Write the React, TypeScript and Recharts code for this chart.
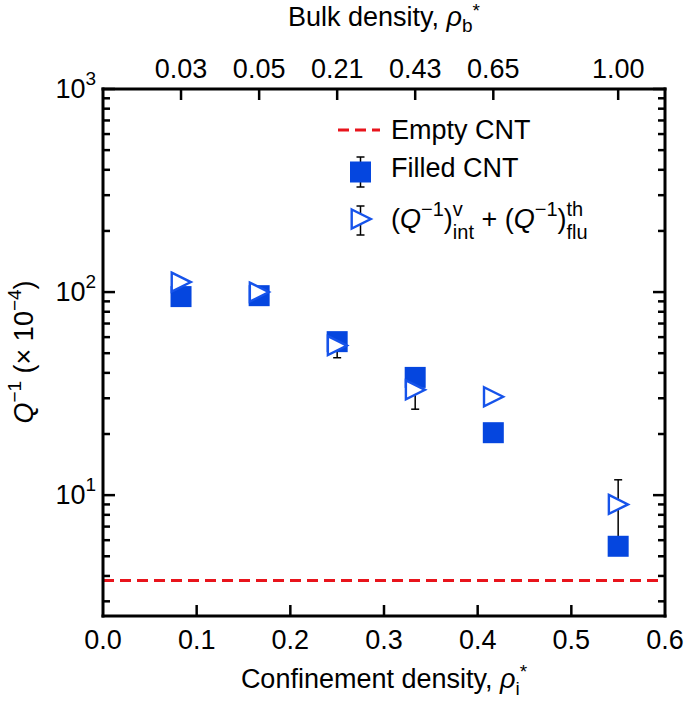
import React from 'react';
import { ComposedChart, Scatter, XAxis, YAxis, ReferenceLine, ErrorBar, Legend } from 'recharts';

// confinement density of the six fillings (bottom axis) and matching bulk densities (top axis)
const confinement = [0.0833, 0.1667, 0.25, 0.3333, 0.4167, 0.55];
const bulkLabels = ['0.03', '0.05', '0.21', '0.43', '0.65', '1.00'];

// Q^-1 (x 10^-4)
const filledQ = [95, 96, 57, 38, 20.3, 5.6];
const modelQ = [112, 100, 54.5, 33, 30.5, 9];
const modelLow = [109, 97, 47.5, 26.5, 29.7, 6.2];
const modelHigh = [115, 103, 60, 41, 31.3, 11.9];
const emptyQ = 3.8;

const xTicks = [0, 0.1, 0.2, 0.3, 0.4, 0.5, 0.6];
const yMajor = [10, 100, 1000];
const yMinor = [3, 4, 5, 6, 7, 8, 9, 20, 30, 40, 50, 60, 70, 80, 90, 200, 300, 400, 500, 600, 700, 800, 900];
const yTicks = [...yMinor, ...yMajor].sort((a, b) => a - b);

const filledData = confinement.map((x, i) => ({ x, y: filledQ[i] }));
const modelData = confinement.map((x, i) => ({
  x,
  y: modelQ[i],
  err: [modelQ[i] - modelLow[i], modelHigh[i] - modelQ[i]],
}));

const FONT = '"Liberation Sans", Arial, Helvetica, sans-serif';
const BLUE = '#0546df';
const TRI = '#1653ea';
const RED = '#e8141c';
const W = 685;
const H = 704;

function BottomTick({ x, y, payload }: any) {
  const v = payload.value;
  const edge = v === 0 || v === 0.6;
  return (
    <g>
      {!edge && <line x1={x} x2={x} y1={y} y2={y - 11} stroke="#000" strokeWidth={2.5} />}
      <text x={x} y={y + 33} textAnchor="middle" fontSize={27} fontFamily={FONT} fill="#000">
        {v.toFixed(1)}
      </text>
    </g>
  );
}

function TopTick({ x, y, index }: any) {
  return (
    <g>
      <line x1={x} x2={x} y1={y} y2={y + 11} stroke="#000" strokeWidth={2.5} />
      <text x={x} y={y - 11} textAnchor="middle" fontSize={27} fontFamily={FONT} fill="#000">
        {bulkLabels[index]}
      </text>
    </g>
  );
}

function LeftTick({ x, y, payload }: any) {
  const v = payload.value;
  const major = yMajor.includes(v);
  return (
    <g>
      <line x1={x} x2={x + (major ? 12 : 7)} y1={y} y2={y} stroke="#000" strokeWidth={2.5} />
      {major && (
        <text x={x - 7} y={y + 9} textAnchor="end" fontSize={27} fontFamily={FONT} fill="#000">
          <tspan>10</tspan>
          <tspan dy={-13} fontSize={19}>{String(Math.round(Math.log10(v)))}</tspan>
        </text>
      )}
    </g>
  );
}

function RightTick({ x, y, payload }: any) {
  const major = yMajor.includes(payload.value);
  return <line x1={x} x2={x - (major ? 12 : 7)} y1={y} y2={y} stroke="#000" strokeWidth={2.5} />;
}

const squareShape = (p: any) => (
  <rect x={p.cx - 10.5} y={p.cy - 10.5} width={21} height={21} fill={BLUE} />
);
const triangleShape = (p: any) => (
  <polygon
    points={`${p.cx - 9.3},${p.cy - 9.5} ${p.cx + 9.8},${p.cy} ${p.cx - 9.3},${p.cy + 9.5}`}
    fill="#fff"
    stroke={TRI}
    strokeWidth={2.4}
  />
);
const noShape = () => <g />;

const bottomTitle = () => (
  <text x={384} y={688} textAnchor="middle" fontSize={27} fontFamily={FONT} fill="#000">
    <tspan>Confinement density, </tspan>
    <tspan fontStyle="italic">ρ</tspan>
    <tspan fontSize={19} dy={7}>i</tspan>
    <tspan fontSize={19} dy={-17}>*</tspan>
  </text>
);

const topTitle = () => (
  <text x={384} y={26} textAnchor="middle" fontSize={27} fontFamily={FONT} fill="#000">
    <tspan>Bulk density, </tspan>
    <tspan fontStyle="italic">ρ</tspan>
    <tspan fontSize={19} dy={6}>b</tspan>
    <tspan fontSize={19} dy={-15}>*</tspan>
  </text>
);

const leftTitle = () => (
  <text
    x={33}
    y={352}
    transform="rotate(-90, 33, 352)"
    textAnchor="middle"
    fontSize={27}
    fontFamily={FONT}
    fill="#000"
  >
    <tspan fontStyle="italic">Q</tspan>
    <tspan fontSize={19} dy={-12}>−1</tspan>
    <tspan dy={12}> (× 10</tspan>
    <tspan fontSize={19} dy={-12}>−4</tspan>
    <tspan dy={12}>)</tspan>
  </text>
);

function LegendBox() {
  const t = { fontSize: 27, fontFamily: FONT, fill: '#000' };
  return (
    <svg width={340} height={145} style={{ overflow: 'visible', display: 'block' }}>
      <line x1={8} x2={50} y1={30} y2={30} stroke={RED} strokeWidth={3} strokeDasharray="11 6" />
      <text x={61} y={39} {...t}>Empty CNT</text>

      <line x1={30.5} x2={30.5} y1={57} y2={87} stroke="#000" strokeWidth={1.5} />
      <line x1={26.5} x2={34.5} y1={57} y2={57} stroke="#000" strokeWidth={1.5} />
      <line x1={26.5} x2={34.5} y1={87} y2={87} stroke="#000" strokeWidth={1.5} />
      <rect x={20} y={61.5} width={21} height={21} fill={BLUE} />
      <text x={61} y={77} {...t}>Filled CNT</text>

      <line x1={30.5} x2={30.5} y1={106} y2={135} stroke="#000" strokeWidth={1.5} />
      <line x1={26.5} x2={34.5} y1={106} y2={106} stroke="#000" strokeWidth={1.5} />
      <line x1={26.5} x2={34.5} y1={135} y2={135} stroke="#000" strokeWidth={1.5} />
      <polygon points="21.7,109.5 40.8,119 21.7,128.5" fill="#fff" stroke={TRI} strokeWidth={2.4} />
      <text x={61} y={128} {...t}>
        <tspan>(</tspan>
        <tspan fontStyle="italic">Q</tspan>
        <tspan fontSize={20} dy={-12}>−1</tspan>
        <tspan dy={12}>)</tspan>
        <tspan fontSize={20} dy={-12}>v</tspan>
        <tspan fontSize={20} dx={-10} dy={23}>int</tspan>
        <tspan dy={-11}> + (</tspan>
        <tspan fontStyle="italic">Q</tspan>
        <tspan fontSize={20} dy={-12}>−1</tspan>
        <tspan dy={12}>)</tspan>
        <tspan fontSize={20} dy={-12}>th</tspan>
        <tspan fontSize={20} dx={-16.7} dy={23}>flu</tspan>
      </text>
    </svg>
  );
}

export default function App() {
  const axisLine = { stroke: '#000', strokeWidth: 3, strokeLinecap: 'square' as const };
  return (
    <div style={{ position: 'absolute', left: 0, top: 0, background: '#fff' }}>
      <ComposedChart width={W} height={H} margin={{ top: 0, right: 0, bottom: 0, left: 0 }}>
        <XAxis
          xAxisId="bottom"
          dataKey="x"
          type="number"
          domain={[0, 0.6]}
          ticks={xTicks}
          interval={0}
          allowDataOverflow
          height={88}
          tickSize={0}
          tickMargin={0}
          tickLine={false}
          axisLine={axisLine}
          tick={<BottomTick />}
          label={bottomTitle}
        />
        <XAxis
          xAxisId="top"
          orientation="top"
          dataKey="x"
          type="number"
          domain={[0, 0.6]}
          ticks={confinement}
          interval={0}
          allowDataOverflow
          height={89}
          tickSize={0}
          tickMargin={0}
          tickLine={false}
          axisLine={axisLine}
          tick={<TopTick />}
          label={topTitle}
        />
        <YAxis
          yAxisId="left"
          dataKey="y"
          type="number"
          scale="log"
          domain={[2.54, 1000]}
          ticks={yTicks}
          interval={0}
          allowDataOverflow
          width={103}
          tickSize={0}
          tickMargin={0}
          tickLine={false}
          axisLine={axisLine}
          tick={<LeftTick />}
          label={leftTitle}
        />
        <YAxis
          yAxisId="right"
          orientation="right"
          dataKey="y"
          type="number"
          scale="log"
          domain={[2.54, 1000]}
          ticks={yTicks}
          interval={0}
          allowDataOverflow
          width={20}
          tickSize={0}
          tickMargin={0}
          tickLine={false}
          axisLine={axisLine}
          tick={<RightTick />}
        />
        <ReferenceLine
          xAxisId="bottom"
          yAxisId="left"
          y={emptyQ}
          stroke={RED}
          strokeWidth={3}
          strokeDasharray="11 6"
        />
        <Scatter
          xAxisId="bottom"
          yAxisId="left"
          data={modelData}
          dataKey="y"
          shape={noShape}
          isAnimationActive={false}
        >
          <ErrorBar dataKey="err" direction="y" width={4} stroke="#000" strokeWidth={1.5} />
        </Scatter>
        <Scatter
          xAxisId="bottom"
          yAxisId="left"
          data={filledData}
          dataKey="y"
          shape={squareShape}
          isAnimationActive={false}
        />
        <Scatter
          xAxisId="bottom"
          yAxisId="left"
          data={modelData}
          dataKey="y"
          shape={triangleShape}
          isAnimationActive={false}
        />
        <Scatter xAxisId="top" yAxisId="right" data={filledData} dataKey="y" shape={noShape} isAnimationActive={false} />
        <Legend
          layout="vertical"
          align="center"
          verticalAlign="middle"
          content={() => <LegendBox />}
          wrapperStyle={{ position: 'absolute', left: 330, top: 100, width: 340, height: 145 }}
        />
      </ComposedChart>
    </div>
  );
}
